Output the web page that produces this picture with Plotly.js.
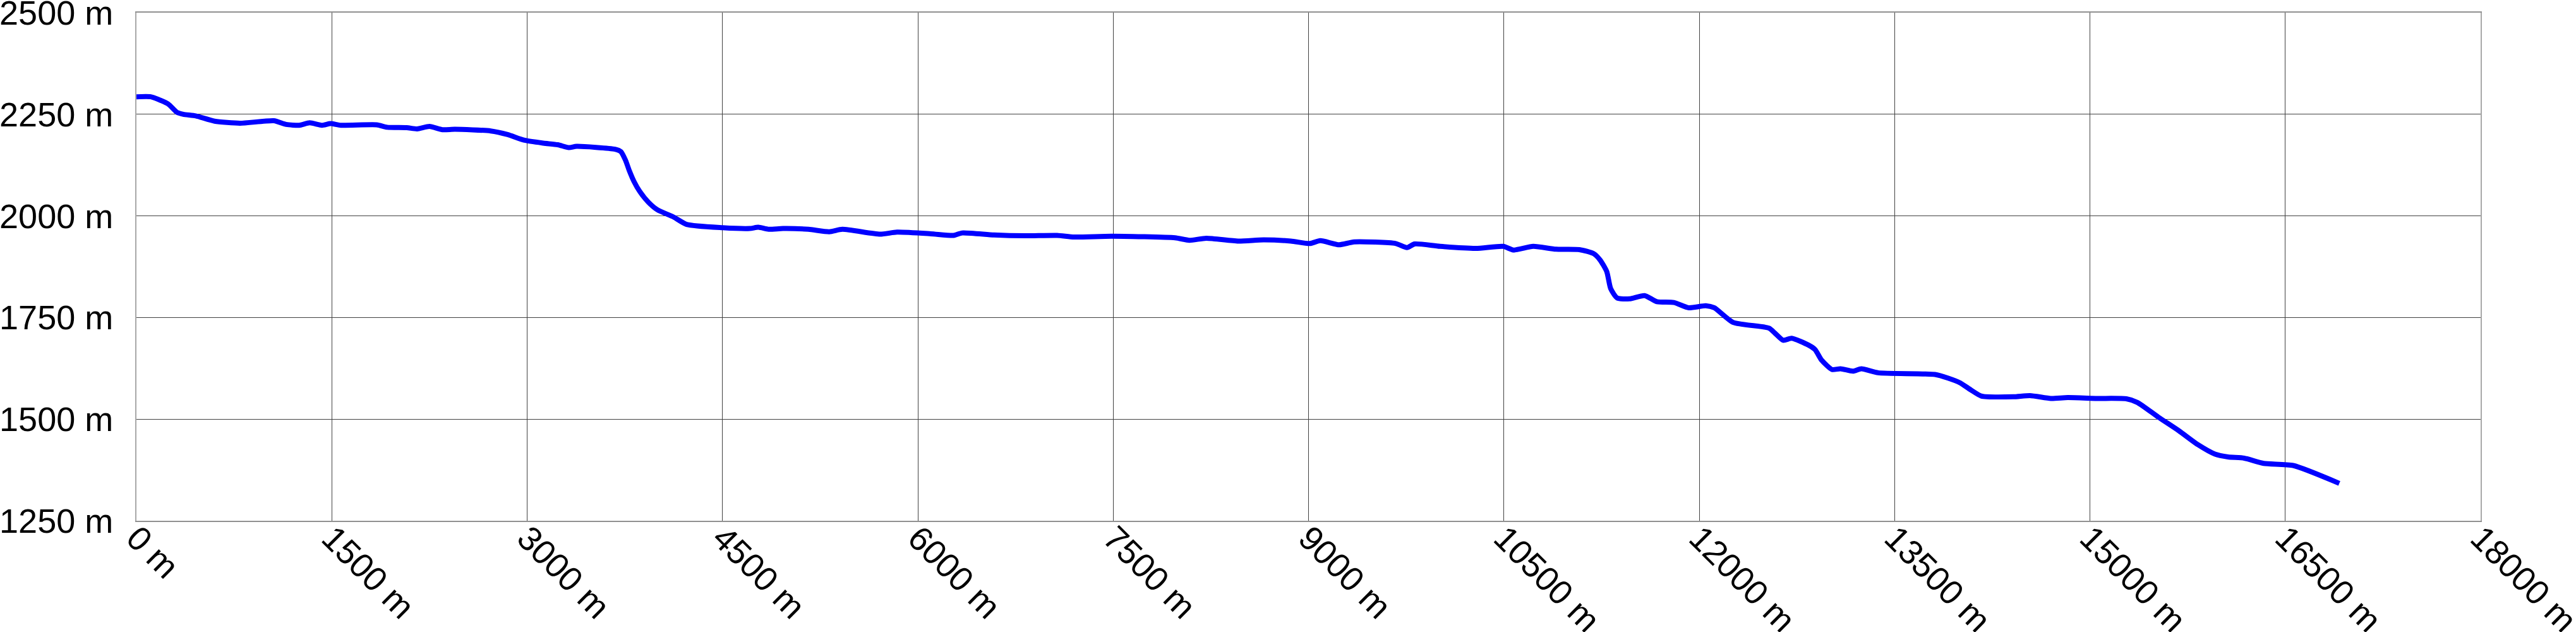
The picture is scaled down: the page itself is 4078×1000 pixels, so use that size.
<!DOCTYPE html>
<html>
<head>
<meta charset="utf-8">
<script src="https://cdn.plot.ly/plotly-3.0.1.min.js"></script>
<style>
  html, body { margin: 0; padding: 0; background: #ffffff; overflow: hidden; }
  #chart { width: 4078px; height: 1000px; }
</style>
</head>
<body>
<div id="chart"></div>
<script>
// Distance along the route (m)
const distance = [
  0, 110, 165, 245, 310, 360, 455, 600, 795, 1055, 1150, 1250, 1330, 1425, 1490, 1570, 1845, 1925, 2075, 2155, 2250, 2350, 2445,
  2720, 2850, 2980, 3125, 3235, 3320, 3380, 3675, 3720, 3755, 3785, 3820, 3865, 3930, 4000, 4125, 4225, 4500, 4710, 4775, 4855, 4965,
  5160, 5320, 5420, 5710, 5840, 6100, 6275, 6340, 6585, 6825, 7070, 7200, 7490,
  7975, 8085, 8215, 8460, 8655, 8865, 9010, 9090, 9235, 9350, 9670, 9755, 9815, 10010,
  10285, 10495, 10575, 10725, 10900, 11080, 11190, 11240, 11290, 11320, 11370, 11465, 11580, 11675, 11805, 11920, 12050, 12115, 12260, 12535,
  12580, 12645, 12710, 12840, 12890, 12940, 13020, 13085, 13180, 13245, 13375, 13810, 13910, 14005, 14085, 14165, 14410, 14540, 14700, 14830, 15055,
  15280, 15365, 15525, 15685, 15830, 15960, 16060, 16185, 16335, 16560, 16915
];

// Elevation (m)
const elevation = [
  2293, 2293, 2287, 2275, 2255, 2250, 2246, 2233, 2228, 2234, 2225, 2223, 2229, 2223, 2227, 2223, 2224, 2218, 2217, 2214, 2220, 2212, 2213,
  2209, 2200, 2186, 2179, 2175, 2168, 2171, 2164, 2158, 2137, 2111, 2085, 2060, 2034, 2015, 1997, 1979, 1971, 1969, 1972, 1967, 1969,
  1967, 1961, 1967, 1955, 1960, 1956, 1952, 1958, 1953, 1951, 1952, 1948, 1950,
  1946, 1940, 1945, 1938, 1941, 1938, 1932, 1939, 1929, 1936, 1932, 1922, 1931, 1925,
  1920, 1925, 1916, 1925, 1918, 1917, 1907, 1891, 1863, 1821, 1798, 1796, 1804, 1789, 1787, 1774, 1779, 1774, 1738, 1724,
  1712, 1694, 1699, 1682, 1671, 1645, 1622, 1624, 1618, 1624, 1614, 1610, 1601, 1589, 1572, 1557, 1555, 1558, 1551, 1553, 1551,
  1550, 1541, 1505, 1471, 1437, 1414, 1407, 1404, 1391, 1386, 1342
];

// Tick values
const xTickValues = [0, 1500, 3000, 4500, 6000, 7500, 9000, 10500, 12000, 13500, 15000, 16500, 18000];
const yTickValues = [1250, 1500, 1750, 2000, 2250, 2500];
const xTickLabels = xTickValues.map(v => v + ' m');
const yTickLabels = yTickValues.map(v => v + ' m');

const trace = {
  x: distance,
  y: elevation,
  type: 'scatter',
  mode: 'lines',
  line: { color: '#0000ff', width: 8, shape: 'spline', smoothing: 0.6 },
  hoverinfo: 'skip'
};

const tickFont = { family: 'Liberation Sans, Arial, sans-serif', size: 54, color: '#000000' };

const layout = {
  width: 4078,
  height: 1000,
  margin: { l: 216, r: 151, t: 20, b: 176, pad: 0 },
  paper_bgcolor: '#ffffff',
  plot_bgcolor: '#ffffff',
  showlegend: false,
  font: tickFont,
  xaxis: {
    range: [0, 18000],
    tickmode: 'array',
    tickvals: xTickValues,
    ticktext: xTickLabels,
    tickangle: 45,
    ticks: '',
    showgrid: true,
    gridcolor: '#404040',
    gridwidth: 1,
    showline: true,
    linecolor: '#909090',
    linewidth: 2,
    mirror: true,
    zeroline: false,
    automargin: false,
    ticklabeloverflow: 'allow',
    ticklabelstandoff: -28,
    tickfont: tickFont
  },
  yaxis: {
    range: [1250, 2500],
    tickmode: 'array',
    tickvals: yTickValues,
    ticktext: yTickLabels,
    ticks: '',
    showgrid: true,
    gridcolor: '#404040',
    gridwidth: 1,
    showline: true,
    linecolor: '#a8a8a8',
    linewidth: 2,
    mirror: true,
    zeroline: false,
    automargin: false,
    ticklabeloverflow: 'allow',
    ticklabelstandoff: 24,
    tickfont: tickFont
  }
};

Plotly.newPlot('chart', [trace], layout, { staticPlot: true, displayModeBar: false });
</script>
</body>
</html>
